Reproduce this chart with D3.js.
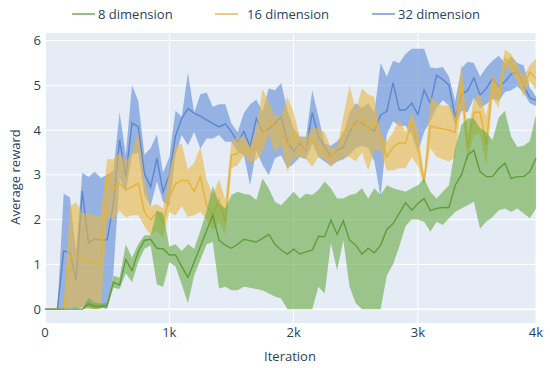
<!DOCTYPE html>
<html><head><meta charset="utf-8">
<script src="https://cdn.jsdelivr.net/npm/d3@7"></script>
<style>body{margin:0;background:#fff} text{font-family:"Open Sans",sans-serif;fill:#2a3f5f}</style>
</head><body><svg id="c" width="550" height="368"></svg>
<script>
const iterations = [0,50,100,150,200,250,300,350,400,450,500,550,600,650,700,750,800,850,900,950,
1000,1050,1100,1150,1200,1250,1300,1350,1400,1450,1500,1550,1600,1650,1700,1750,1800,1850,1900,1950,
2000,2050,2100,2150,2200,2250,2300,2350,2400,2450,2500,2550,2600,2650,2700,2750,2800,2850,2900,2950,
3000,3050,3100,3150,3200,3250,3300,3350,3400,3450,3500,3550,3600,3650,3700,3750,3800,3850,3900,3950];

const mean8 = [0,0,0,0,0,0,0,0.12,0.06,0.06,0.08,0.6,0.54,1.11,0.86,1.28,1.54,1.56,1.36,1.35,
1.21,1.21,0.95,0.71,1.05,1.4,1.75,2.1,1.54,1.43,1.36,1.45,1.56,1.53,1.5,1.58,1.67,1.45,1.32,1.23,
1.34,1.23,1.28,1.32,1.63,1.62,1.99,1.67,1.97,1.54,1.43,1.23,1.36,1.26,1.43,1.78,1.91,2.14,2.38,2.21,
2.36,2.47,2.2,2.25,2.27,2.27,2.77,3.0,3.44,3.55,3.07,2.96,2.96,3.14,3.26,2.92,2.96,2.96,3.07,3.37];
const upper8 = [0,0,0,0,0,0,0,0.25,0.15,0.12,0.15,0.75,0.7,1.45,1.15,1.45,1.65,1.65,2.2,2.15,
1.4,1.45,1.3,1.45,1.35,1.75,2.2,2.75,2.36,2.25,2.55,2.62,2.58,2.55,2.44,2.92,2.7,2.4,2.32,2.47,
2.62,2.47,2.58,2.55,2.66,2.85,2.7,2.47,2.47,2.55,2.58,2.7,2.47,2.7,2.55,2.77,2.7,2.66,2.62,2.7,
2.77,2.92,2.62,2.47,2.62,2.77,3.6,4.12,4.26,4.26,4.05,3.95,3.78,4.28,4.43,3.85,3.62,3.65,3.75,4.34];
const lower8 = [0,0,0,0,0,0,0,0.02,0,0.02,0.03,0.48,0.45,0.8,0.6,1.05,1.35,1.42,0.55,0.5,
1.05,0.95,0.55,0.13,0.75,1.1,1.45,1.5,0.46,0.5,0.42,0.42,0.5,0.48,0.45,0.42,0.35,0.28,0.24,0,
0,0,0,0,0.5,0.35,1.47,0.87,1.54,0.5,0.13,0,0,0,0,0.75,1.0,1.4,1.85,2.0,
2.0,1.95,1.73,1.95,1.88,2.03,2.17,2.25,2.32,2.4,1.8,1.95,2.06,2.21,2.25,2.17,2.25,2.14,2.03,2.25];

const mean16 = [0,0,0,0,1.17,1.22,1.12,1.08,1.04,1.0,3.0,2.66,2.81,2.66,2.73,2.81,2.17,1.99,2.17,1.92,
2.5,2.8,2.88,2.87,2.62,2.96,2.3,2.1,2.45,1.95,3.44,3.48,3.66,3.48,3.65,3.9,4.17,4.09,3.95,3.65,
3.95,3.55,3.6,3.8,3.6,3.5,3.38,3.6,3.95,4.1,4.05,4.3,4.0,4.25,3.9,3.4,3.62,3.72,3.7,4.2,
3.6,2.85,4.1,4.05,4.03,4.0,3.95,5.1,3.6,4.4,4.4,3.65,5.1,4.7,5.6,5.5,5.25,5.0,5.3,5.15];
const upper16 = [0,0,0,0,2.3,2.38,2.15,2.15,2.1,2.1,3.35,3.35,3.5,3.3,3.5,3.95,2.9,2.3,2.35,2.25,
3.1,3.63,3.7,3.12,3.27,3.63,2.9,2.55,2.9,2.45,3.75,3.85,3.85,3.63,4.05,4.92,4.62,4.32,4.32,4.75,
4.4,3.85,3.85,4.04,4.04,3.95,3.6,3.6,4.3,5.0,4.45,4.93,4.8,4.74,3.9,3.75,3.95,4.25,3.95,4.4,
4.0,3.0,4.75,4.6,4.55,4.55,4.3,5.5,3.9,4.7,4.8,4.3,5.25,5.0,5.8,5.7,5.45,5.2,5.45,5.6];
const lower16 = [0,0,0,0,0.02,0.05,0.05,0.02,0,0,2.05,2.0,2.2,2.05,2.1,2.1,1.85,1.65,1.75,1.6,
2.17,2.1,2.3,2.06,2.1,2.17,2.0,1.75,1.95,1.65,3.14,3.22,3.44,3.26,3.33,3.5,3.89,3.5,3.66,3.07,
3.4,3.4,3.35,3.18,3.4,3.35,3.18,3.3,3.4,3.4,3.3,3.5,3.1,3.55,3.55,3.1,3.1,3.15,3.15,3.4,
3.2,2.75,3.6,3.4,3.35,3.3,3.4,4.6,3.3,3.9,3.9,3.2,4.7,4.5,5.4,5.3,5.1,4.75,5.1,4.9];

const mean32 = [0,0,0,1.30,1.26,0.65,2.64,1.48,1.58,1.54,1.55,2.35,3.78,2.96,4.16,4.07,3.03,2.73,3.37,2.62,
3.0,3.87,4.26,4.48,4.38,4.31,4.23,4.15,4.07,4.14,3.96,3.74,3.97,3.63,4.26,3.96,4.02,4.15,4.30,3.75,
3.52,3.7,3.55,4.39,3.85,3.63,3.4,3.55,3.62,3.95,4.2,4.15,4.05,3.98,4.34,4.42,5.06,4.45,4.45,4.6,
4.35,4.9,4.6,5.23,5.13,5.0,4.28,4.8,4.88,5.17,4.78,4.93,5.15,4.98,5.08,5.25,5.3,5.0,4.72,4.67];
const upper32 = [0,0,0,2.58,2.5,1.3,3.05,2.95,3.07,2.93,3.0,3.1,4.4,3.45,5.0,4.65,3.45,3.6,3.9,3.05,
3.4,4.43,4.3,5.28,4.4,4.8,4.84,4.52,4.58,4.58,4.15,3.96,4.38,4.58,4.68,4.42,4.93,4.89,5.05,4.45,
4.05,3.85,3.85,4.89,4.3,3.7,3.65,3.75,3.9,4.4,4.6,4.5,4.6,4.4,5.5,5.2,5.55,5.5,5.7,5.82,
5.82,5.82,5.4,5.38,5.41,5.2,4.65,5.38,5.53,5.5,5.2,5.4,5.55,5.66,5.5,5.65,5.5,5.45,4.95,4.75];
const lower32 = [0,0,0,0.02,0.02,0,0.05,0.05,0.05,0.05,0,0.8,2.95,2.6,3.45,3.5,2.55,2.3,2.85,2.4,
2.3,3.44,3.89,3.66,3.96,3.59,3.81,3.81,3.89,3.74,3.74,3.52,3.44,2.77,3.55,3.22,2.99,3.37,3.44,3.15,
3.25,3.4,3.35,3.7,3.4,3.3,3.2,3.3,3.35,3.45,3.6,3.65,3.6,3.3,2.5,3.9,4.2,4.1,4.1,3.9,
3.5,3.96,4.2,4.5,4.67,4.55,4.1,4.43,4.4,4.72,4.5,4.58,4.7,4.65,4.85,4.89,4.98,4.84,4.6,4.54];

const seriesNames = ["8 dimension","16 dimension","32 dimension"];
const xTicks = [0,1000,2000,3000,4000];
const xTickLabels = ["0","1k","2k","3k","4k"];
const yTicks = [0,1,2,3,4,5,6];

const series = [
  {name:seriesNames[2], mean:mean32, upper:upper32, lower:lower32, line:"#5a87cf", fill:"rgba(96,140,214,0.6)"},
  {name:seriesNames[1], mean:mean16, upper:upper16, lower:lower16, line:"#e3b33a", fill:"rgba(231,184,66,0.6)"},
  {name:seriesNames[0], mean:mean8, upper:upper8, lower:lower8, line:"#5e9e3a", fill:"rgba(104,170,66,0.6)"}
];

const svg = d3.select("#c");
const L=45, R=536, T=33, B=323;
const x = d3.scaleLinear().domain([0,3950]).range([L,R]).clamp(true);
const y = d3.scaleLinear().domain([-0.31,6.17]).range([B,T]);

svg.append("rect").attr("x",L).attr("y",T).attr("width",R-L).attr("height",B-T).attr("fill","#e5ecf6");

// grid
svg.append("g").selectAll("line").data(yTicks).join("line")
  .attr("x1",L).attr("x2",R).attr("y1",d=>y(d)).attr("y2",d=>y(d))
  .attr("stroke","#fff").attr("stroke-width",d=>d===0?2:1);
svg.append("g").selectAll("line").data(xTicks).join("line")
  .attr("y1",T).attr("y2",B).attr("x1",d=>x(d)).attr("x2",d=>x(d))
  .attr("stroke","#fff").attr("stroke-width",d=>d===0?2:1);

const g = svg.append("g");
series.forEach(s=>{
  const area = d3.area().x((d,i)=>x(iterations[i])).y0((d,i)=>y(s.lower[i])).y1((d,i)=>y(s.upper[i]));
  g.append("path").datum(s.mean).attr("d",area).attr("fill",s.fill).attr("stroke","none");
  const line = d3.line().x((d,i)=>x(iterations[i])).y(d=>y(d));
  g.append("path").datum(s.mean).attr("d",line).attr("fill","none").attr("stroke",s.line).attr("stroke-width",1.4);
});

// tick labels
svg.append("g").selectAll("text").data(xTicks).join("text")
  .attr("x",d=>x(d)).attr("y",337).attr("text-anchor","middle").attr("font-size",13)
  .text((d,i)=>xTickLabels[i]);
svg.append("g").selectAll("text").data(yTicks).join("text")
  .attr("x",41).attr("y",d=>y(d)+4.5).attr("text-anchor","end").attr("font-size",13)
  .text(d=>d);

svg.append("text").attr("x",290).attr("y",361).attr("text-anchor","middle").attr("font-size",13).text("Iteration");
svg.append("text").attr("transform","translate(20,177) rotate(-90)").attr("text-anchor","middle").attr("font-size",13).text("Average reward");

// legend
const legendPos = [{lx:72, tx:98},{lx:215, tx:247},{lx:372, tx:398}];
const legendSeries = [series[2], series[1], series[0]];
legendSeries.forEach((s,i)=>{
  const p = legendPos[i];
  svg.append("line").attr("x1",p.lx).attr("x2",p.lx+23).attr("y1",14).attr("y2",14)
    .attr("stroke",s.line).attr("stroke-width",2).attr("opacity",0.65);
  svg.append("text").attr("x",p.tx).attr("y",18.5).attr("font-size",13).text(s.name);
});
</script></body></html>
